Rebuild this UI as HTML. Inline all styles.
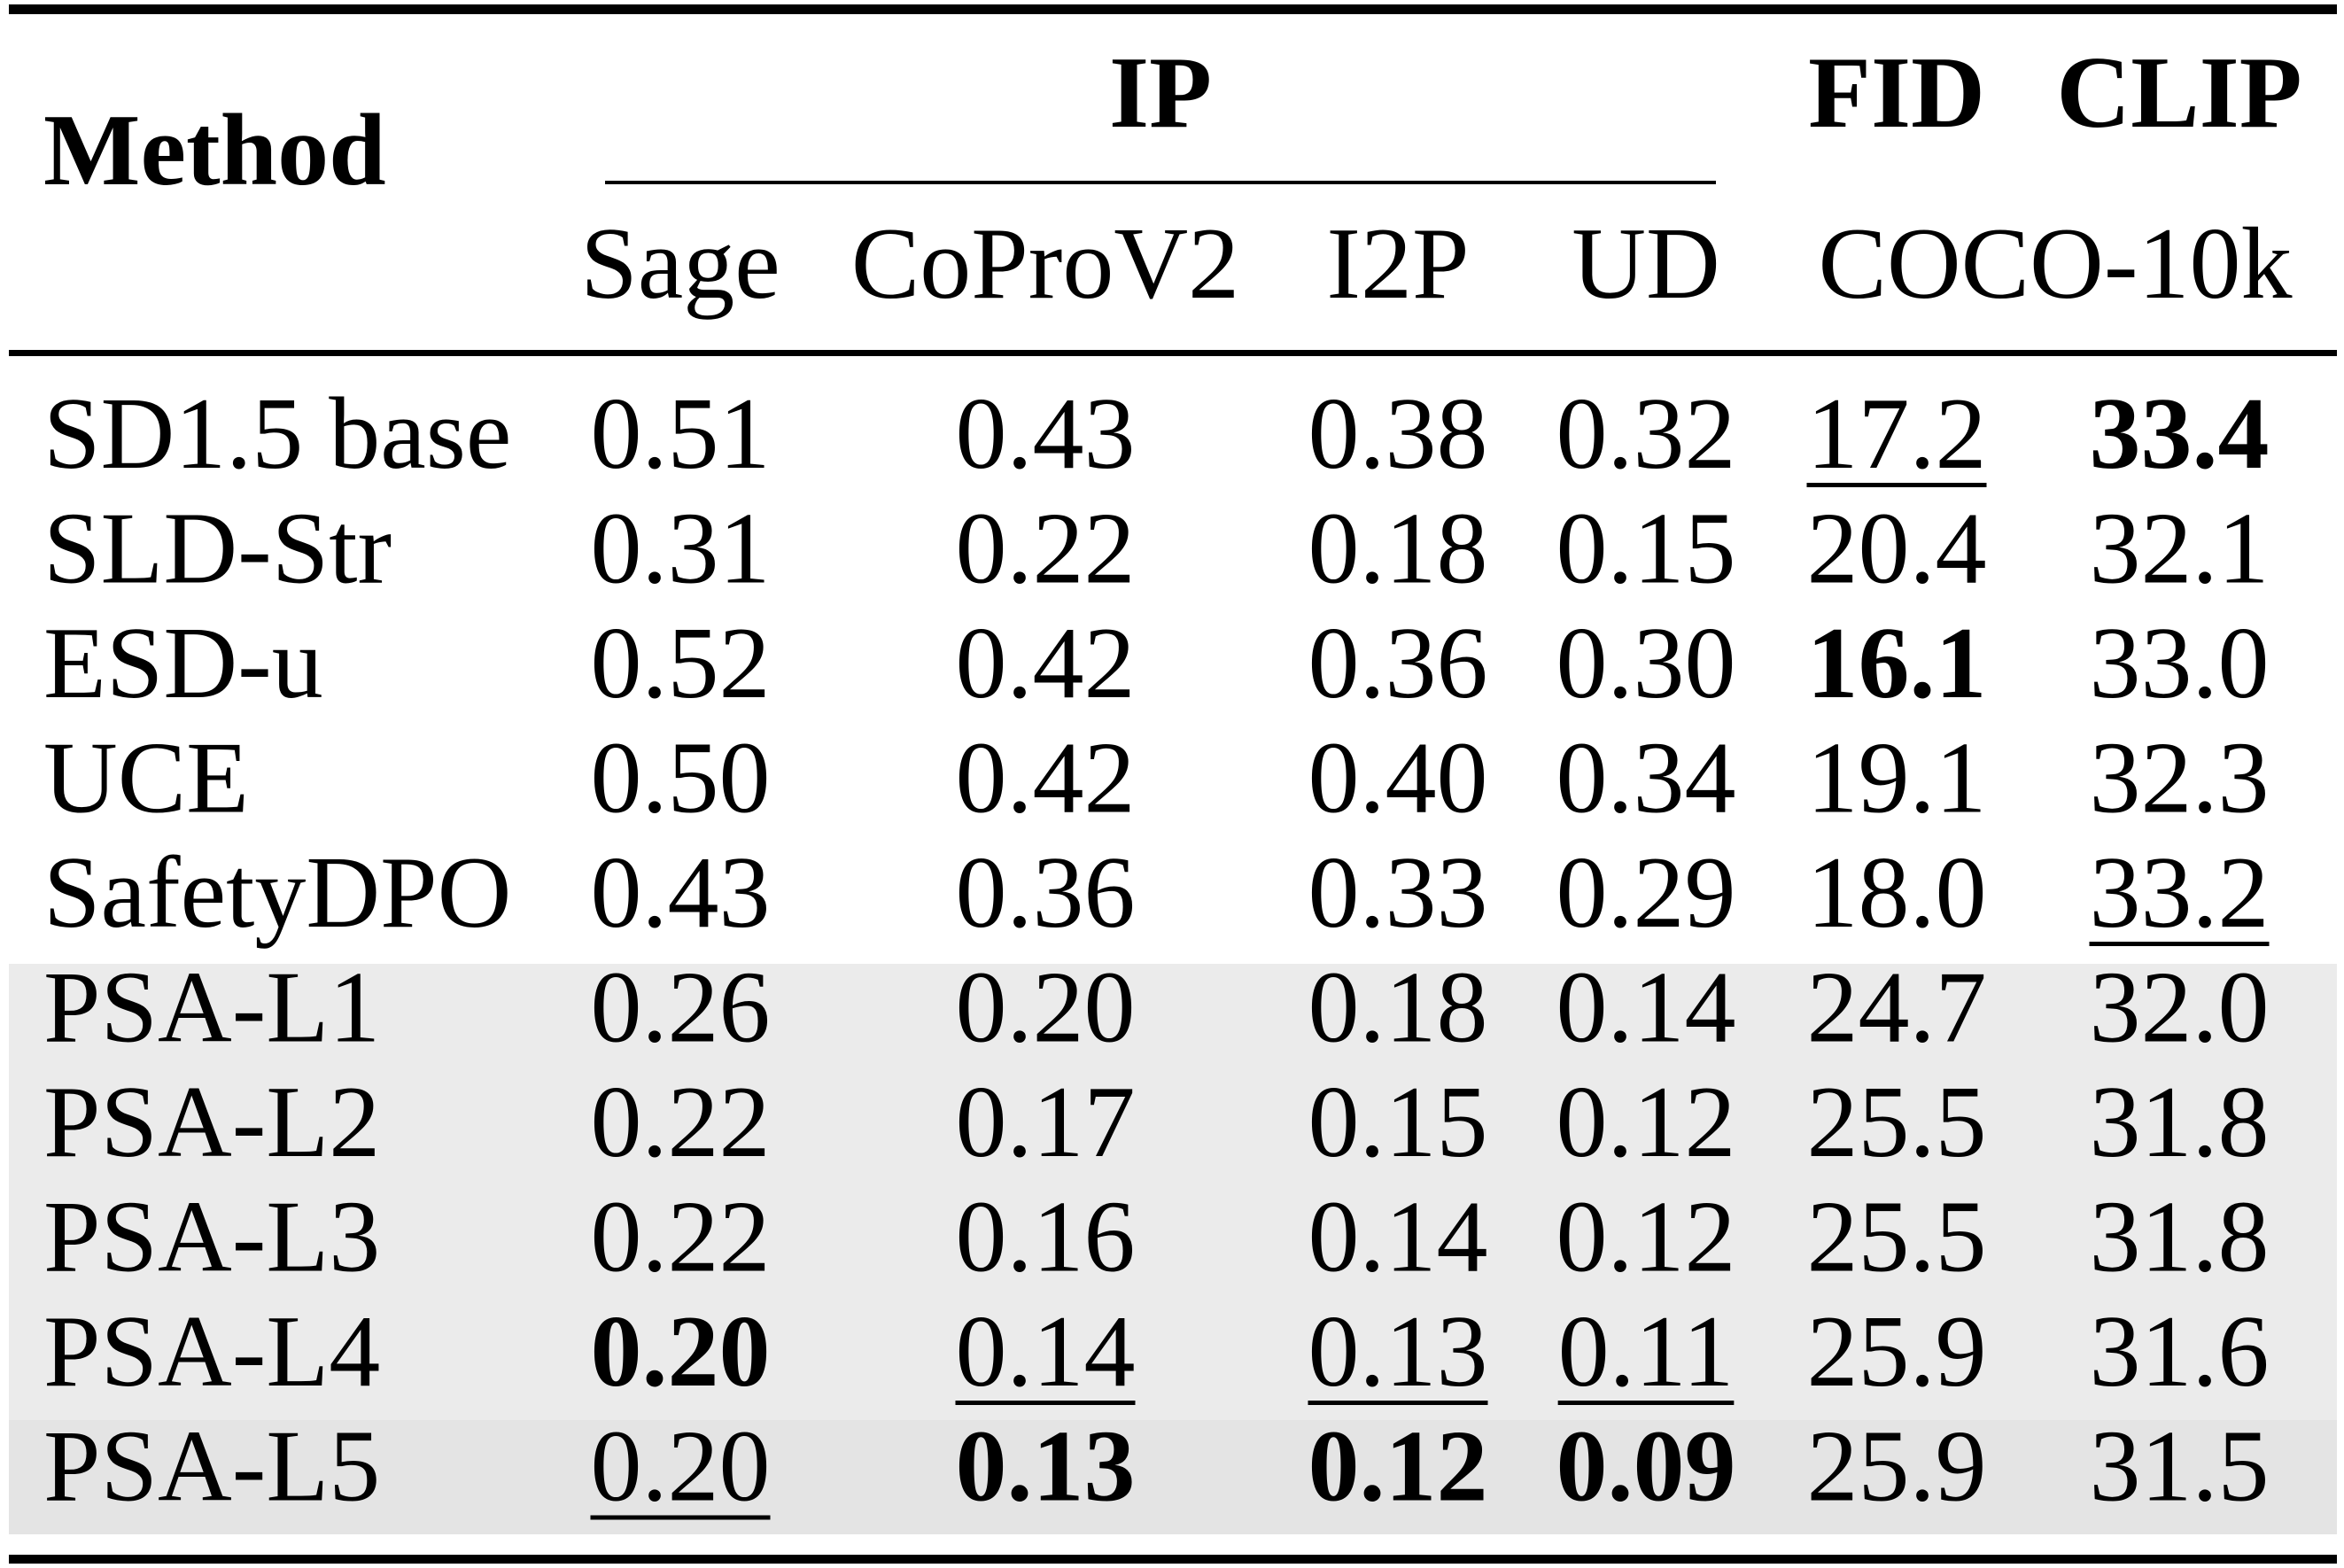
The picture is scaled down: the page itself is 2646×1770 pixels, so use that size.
<!DOCTYPE html>
<html><head><meta charset="utf-8">
<style>
html,body{margin:0;padding:0;background:#fff;}
svg{display:block;}
text{font-family:"Liberation Serif","Times New Roman",serif;font-size:116px;fill:#000;}
</style></head>
<body>
<svg id="tbl" width="2646" height="1770" viewBox="0 0 2646 1770" xmlns="http://www.w3.org/2000/svg">
  <rect x="10" y="1088" width="2628" height="515" fill="#ebebeb"/>
  <rect x="10" y="1603" width="2628" height="129" fill="#e4e4e4"/>
  <rect x="10" y="5" width="2628" height="11" fill="#000"/>
  <rect x="683" y="204" width="1254" height="4" fill="#000"/>
  <rect x="10" y="395" width="2628" height="7" fill="#000"/>
  <rect x="10" y="1755" width="2628" height="10" fill="#000"/>
  <text x="49" y="208" font-weight="bold">Method</text>
  <text x="1310" y="143" text-anchor="middle" font-weight="bold">IP</text>
  <text x="2141" y="143" text-anchor="middle" font-weight="bold">FID</text>
  <text x="2460" y="143" text-anchor="middle" font-weight="bold">CLIP</text>
  <text x="768" y="336" text-anchor="middle">Sage</text>
  <text x="1180" y="336" text-anchor="middle">CoProV2</text>
  <text x="1578" y="336" text-anchor="middle">I2P</text>
  <text x="1858" y="336" text-anchor="middle">UD</text>
  <text x="2320" y="336" text-anchor="middle">COCO-10k</text>
</svg>
<script>
const methods = ["SD1.5 base","SLD-Str","ESD-u","UCE","SafetyDPO","PSA-L1","PSA-L2","PSA-L3","PSA-L4","PSA-L5"];
const sage    = ["0.51","0.31","0.52","0.50","0.43","0.26","0.22","0.22","0.20","0.20"];
const coprov2 = ["0.43","0.22","0.42","0.42","0.36","0.20","0.17","0.16","0.14","0.13"];
const i2p     = ["0.38","0.18","0.36","0.40","0.33","0.18","0.15","0.14","0.13","0.12"];
const ud      = ["0.32","0.15","0.30","0.34","0.29","0.14","0.12","0.12","0.11","0.09"];
const fid     = ["17.2","20.4","16.1","19.1","18.0","24.7","25.5","25.5","25.9","25.9"];
const clip    = ["33.4","32.1","33.0","32.3","33.2","32.0","31.8","31.8","31.6","31.5"];
// style markers: "b" bold, "u" underline
const boldCells = ["0-clip","2-fid","8-sage","9-coprov2","9-i2p","9-ud"];
const underCells = ["0-fid","4-clip","8-coprov2","8-i2p","8-ud","9-sage"];

const svg = document.getElementById('tbl');
const NS = "http://www.w3.org/2000/svg";
const cols = [["sage",sage,768],["coprov2",coprov2,1180],["i2p",i2p,1578],["ud",ud,1858],["fid",fid,2141],["clip",clip,2460]];
function rowY(i){ return 528 + i*129.5; }
methods.forEach((m,i)=>{
  const y = rowY(i);
  const t = document.createElementNS(NS,'text');
  t.setAttribute('x',49); t.setAttribute('y',y);
  t.textContent = m;
  
  
  svg.appendChild(t);
  cols.forEach(([key,arr,cx])=>{
    const id = i+'-'+key;
    const c = document.createElementNS(NS,'text');
    c.setAttribute('x',cx); c.setAttribute('y',y);
    c.setAttribute('text-anchor','middle');
    if (boldCells.includes(id)) c.setAttribute('font-weight','bold');
    c.textContent = arr[i];
    
    
    svg.appendChild(c);
    if (underCells.includes(id)) {
      const w = c.getComputedTextLength();
      const u = document.createElementNS(NS,'rect');
      u.setAttribute('x', cx - w/2); u.setAttribute('y', y+17);
      u.setAttribute('width', w); u.setAttribute('height', 5);
      u.setAttribute('fill','#000');
      
      
      svg.appendChild(u);
    }
  });
});
</script>
</body></html>
